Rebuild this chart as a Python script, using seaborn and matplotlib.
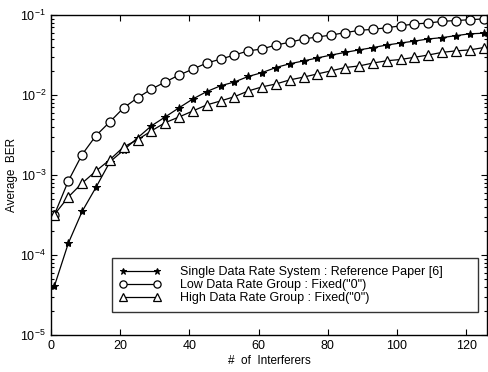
import numpy as np
import pandas as pd
import matplotlib
matplotlib.use("Agg")
import matplotlib.pyplot as plt
import seaborn as sns
from matplotlib.ticker import LogLocator, NullFormatter, FixedLocator

interferers = [1, 5, 9, 13, 17, 21, 25, 29, 33, 37, 41, 45, 49, 53, 57, 61,
               65, 69, 73, 77, 81, 85, 89, 93, 97, 101, 105, 109, 113, 117, 121, 125]

single_rate = [4.1e-5, 1.4e-4, 3.5e-4, 7.0e-4, 1.45e-3, 2.05e-3, 2.9e-3, 4.1e-3,
               5.3e-3, 6.9e-3, 8.9e-3, 1.1e-2, 1.3e-2, 1.45e-2, 1.7e-2, 1.9e-2,
               2.2e-2, 2.45e-2, 2.66e-2, 2.9e-2, 3.15e-2, 3.4e-2, 3.65e-2, 3.9e-2,
               4.2e-2, 4.45e-2, 4.7e-2, 5.0e-2, 5.2e-2, 5.5e-2, 5.8e-2, 5.9e-2]

low_rate = [3.2e-4, 8.4e-4, 1.8e-3, 3.1e-3, 4.6e-3, 6.9e-3, 9.2e-3, 1.18e-2,
            1.45e-2, 1.77e-2, 2.1e-2, 2.5e-2, 2.8e-2, 3.15e-2, 3.55e-2, 3.75e-2,
            4.2e-2, 4.55e-2, 5.0e-2, 5.3e-2, 5.6e-2, 6.0e-2, 6.4e-2, 6.6e-2,
            6.9e-2, 7.3e-2, 7.7e-2, 7.9e-2, 8.3e-2, 8.5e-2, 8.7e-2, 8.9e-2]

high_rate = [3.2e-4, 5.3e-4, 7.9e-4, 1.12e-3, 1.55e-3, 2.24e-3, 2.75e-3, 3.55e-3,
             4.5e-3, 5.3e-3, 6.3e-3, 7.5e-3, 8.4e-3, 9.5e-3, 1.12e-2, 1.26e-2,
             1.37e-2, 1.54e-2, 1.67e-2, 1.83e-2, 2.0e-2, 2.2e-2, 2.3e-2, 2.5e-2,
             2.67e-2, 2.77e-2, 2.95e-2, 3.15e-2, 3.4e-2, 3.55e-2, 3.65e-2, 3.9e-2]

labels = ['Single Data Rate System : Reference Paper [6]',
          'Low Data Rate Group : Fixed("0")',
          'High Data Rate Group : Fixed("0")']

sns.set_style("ticks")
plt.rcParams['font.family'] = ['Liberation Sans', 'DejaVu Sans']
plt.rcParams['mathtext.fontset'] = 'custom'
plt.rcParams['mathtext.rm'] = 'Liberation Sans'
plt.rcParams['text.color'] = 'black'
plt.rcParams['axes.labelcolor'] = 'black'
plt.rcParams['xtick.color'] = 'black'
plt.rcParams['ytick.color'] = 'black'

fig = plt.figure(figsize=(4.88, 3.72), dpi=100)
ax = fig.add_axes([0.1045, 0.0995, 0.8935, 0.8605])

series = [single_rate, low_rate, high_rate]
styles = [dict(marker='*', markersize=6, markerfacecolor='black', markeredgecolor='black'),
          dict(marker='o', markersize=6.5, markerfacecolor='white', markeredgecolor='black', markeredgewidth=0.9),
          dict(marker='^', markersize=6.5, markerfacecolor='white', markeredgecolor='black', markeredgewidth=0.9)]

for vals, lab, st in zip(series, labels, styles):
    df = pd.DataFrame({'x': interferers, 'y': vals})
    sns.lineplot(data=df, x='x', y='y', ax=ax, color='black', linewidth=0.9,
                 label=lab, **st)

ax.set_yscale('log')
ax.set_xlim(0, 126)
ax.set_ylim(1e-5, 1e-1)
ax.xaxis.set_major_locator(FixedLocator([0, 20, 40, 60, 80, 100, 120]))
ax.yaxis.set_major_locator(LogLocator(base=10, numticks=10))
ax.yaxis.set_minor_locator(LogLocator(base=10, subs=np.arange(2, 10), numticks=20))
ax.yaxis.set_minor_formatter(NullFormatter())
ax.tick_params(which='both', direction='in', top=True, right=True, labelsize=9, width=0.8)
ax.tick_params(which='major', length=4)
ax.tick_params(which='minor', length=2)
for s in ax.spines.values():
    s.set_linewidth(1.0)
    s.set_color('black')

ax.set_xlabel('#  of  Interferers', fontsize=8.5, labelpad=2)
ax.set_ylabel('Average  BER', fontsize=8.5, labelpad=2)

leg = ax.legend(loc='lower left', bbox_to_anchor=(0.14, 0.072, 0.839, 0.168),
                mode='expand', frameon=True, fancybox=False, fontsize=9,
                handlelength=3.3, numpoints=2, borderpad=0.6, labelspacing=0.1,
                handletextpad=1.5, markerscale=0.8, borderaxespad=0)
leg.get_frame().set_edgecolor('black')
leg.get_frame().set_linewidth(1.0)

fig.savefig('out.png', dpi=100)
